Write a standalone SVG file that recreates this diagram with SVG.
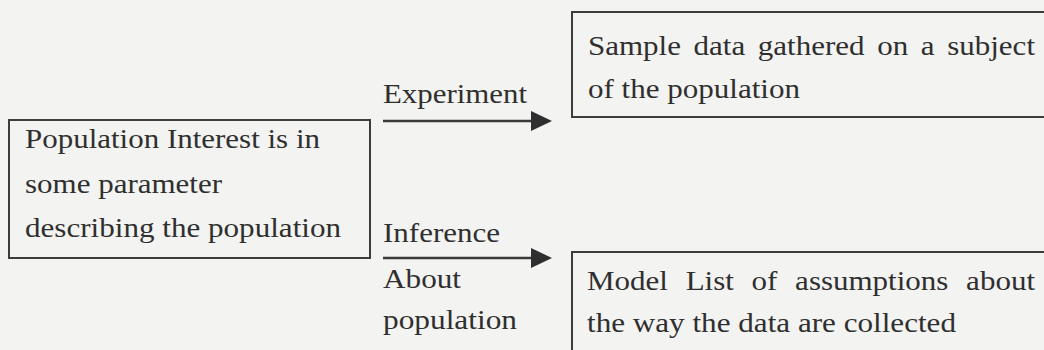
<svg xmlns="http://www.w3.org/2000/svg" width="1044" height="350" viewBox="0 0 1044 350">
  <defs>
    <style>
      .bg { fill: #f3f3f1; }
      .box { fill: none; stroke: #3c3c3c; stroke-width: 2; }
      .lbl { font-family: "Liberation Serif", "Times New Roman", serif; font-size: 28px; fill: #2f2f2f; }
      .conn { stroke: #3a3a3a; stroke-width: 2.5; fill: none; }
    </style>
    <marker id="arrow" viewBox="0 0 21 20" refX="0" refY="10" markerWidth="21" markerHeight="20" markerUnits="userSpaceOnUse" orient="auto">
      <path d="M0,0 L21,10 L0,20 Z" fill="#2f2f2f"/>
    </marker>
  </defs>
  <rect class="bg" x="0" y="0" width="1044" height="350"/>

  <g id="population">
    <rect class="box" x="9" y="120" width="361" height="138"/>
    <text class="lbl" x="25" y="148" textLength="295" lengthAdjust="spacingAndGlyphs">Population Interest is in</text>
    <text class="lbl" x="25" y="193" textLength="197" lengthAdjust="spacingAndGlyphs">some parameter</text>
    <text class="lbl" x="25" y="237" textLength="316" lengthAdjust="spacingAndGlyphs">describing the population</text>
  </g>

  <g id="sample">
    <rect class="box" x="572" y="12" width="490" height="105"/>
    <text class="lbl" x="588" y="55" word-spacing="4.4" textLength="447" lengthAdjust="spacingAndGlyphs">Sample data gathered on a subject</text>
    <text class="lbl" x="588" y="98" textLength="212" lengthAdjust="spacingAndGlyphs">of the population</text>
  </g>

  <g id="model">
    <rect class="box" x="572" y="252" width="490" height="120"/>
    <text class="lbl" x="587" y="290" word-spacing="9" textLength="448" lengthAdjust="spacingAndGlyphs">Model List of assumptions about</text>
    <text class="lbl" x="587" y="332" textLength="369" lengthAdjust="spacingAndGlyphs">the way the data are collected</text>
  </g>

  <g id="connectors">
    <line class="conn" x1="383" y1="121" x2="531" y2="121" marker-end="url(#arrow)"/>
    <text class="lbl" x="383" y="103" textLength="144" lengthAdjust="spacingAndGlyphs">Experiment</text>
    <line class="conn" x1="383" y1="258" x2="531" y2="258" marker-end="url(#arrow)"/>
    <text class="lbl" x="383" y="242" textLength="117" lengthAdjust="spacingAndGlyphs">Inference</text>
    <text class="lbl" x="383" y="288" textLength="78" lengthAdjust="spacingAndGlyphs">About</text>
    <text class="lbl" x="383" y="329" textLength="134" lengthAdjust="spacingAndGlyphs">population</text>
  </g>
</svg>
